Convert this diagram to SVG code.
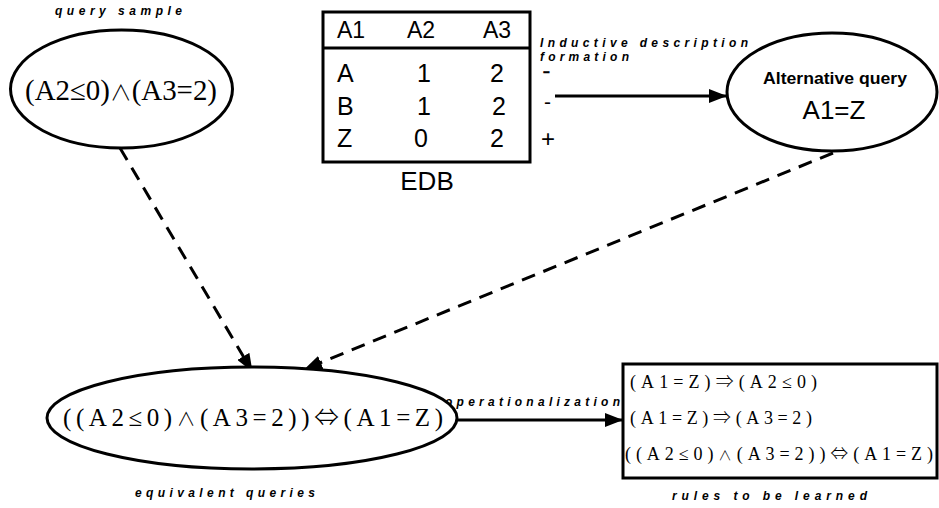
<svg xmlns="http://www.w3.org/2000/svg" width="939" height="508" viewBox="0 0 939 508">
<style>
.node{fill:#fff;stroke:#000;stroke-width:3}
.lbl{font-family:"Liberation Sans",Arial,sans-serif;font-weight:bold;font-style:italic;font-size:12px;fill:#000}
.sans{font-family:"Liberation Sans",Arial,sans-serif;fill:#000}
.serif{font-family:"Liberation Serif","Times New Roman",serif;fill:#000}
.sym{font-family:"Noto Sans CJK JP","DejaVu Serif",serif;font-weight:300}
.and{font-family:"Noto Sans CJK JP","DejaVu Serif",serif;font-weight:300;font-size:75%}
.conn{stroke:#000;stroke-width:3;fill:none}
.dash{stroke-dasharray:14 9}
</style>
<defs>
<marker id="ah" markerUnits="userSpaceOnUse" markerWidth="18" markerHeight="14" refX="17" refY="7" orient="auto"><path d="M0,0 L18,7 L0,14 z" fill="#000"/></marker>
</defs>
<rect width="939" height="508" fill="#fff"/>

<g id="connectors">
<line class="conn" x1="555" y1="96" x2="726" y2="96" marker-end="url(#ah)"/>
<line class="conn dash" x1="120" y1="148" x2="252" y2="371" marker-end="url(#ah)"/>
<line class="conn dash" x1="833" y1="153" x2="305" y2="369" marker-end="url(#ah)"/>
<line class="conn" x1="457" y1="420" x2="622" y2="420" marker-end="url(#ah)"/>
<text class="lbl" x="540" y="47" textLength="208" lengthAdjust="spacing">Inductive description</text>
<text class="lbl" x="540" y="61" textLength="89" lengthAdjust="spacing">formation</text>
<text class="lbl" x="445" y="406" textLength="175" lengthAdjust="spacing">operationalization</text>
</g>

<g id="query-sample">
<ellipse class="node" cx="121.5" cy="89" rx="111" ry="59"/>
<text class="serif" x="25" y="100" font-size="29" textLength="192" lengthAdjust="spacingAndGlyphs">(A2≤0)<tspan class="and">∧</tspan>(A3=2)</text>
<text class="lbl" x="55" y="15" textLength="127" lengthAdjust="spacing">query sample</text>
</g>

<g id="edb">
<rect class="node" x="323" y="12" width="207" height="150"/>
<line x1="323" y1="48" x2="530" y2="48" stroke="#000" stroke-width="3"/>
<g class="sans" font-size="23">
<text x="337" y="38">A1</text>
<text x="407" y="38">A2</text>
<text x="483" y="38">A3</text>
</g>
<g class="sans" font-size="25">
<text x="337" y="82">A</text>
<text x="424" y="82" text-anchor="middle">1</text>
<text x="497" y="82" text-anchor="middle">2</text>
<text x="337" y="115">B</text>
<text x="424" y="115" text-anchor="middle">1</text>
<text x="499" y="115" text-anchor="middle">2</text>
<text x="337" y="147">Z</text>
<text x="421" y="147" text-anchor="middle">0</text>
<text x="497" y="147" text-anchor="middle">2</text>
</g>
<text class="sans" x="427" y="190" font-size="26" text-anchor="middle">EDB</text>
<text class="sans" font-size="12" font-weight="bold" stroke="#000" stroke-width="0.6" transform="translate(543,75.5) scale(1.7,1)">-</text>
<text class="sans" x="544" y="109" font-size="21">-</text>
<text class="sans" x="541" y="147" font-size="24">+</text>
</g>

<g id="alternative-query">
<ellipse class="node" cx="832" cy="92" rx="105" ry="59"/>
<text class="sans" x="763" y="84" font-size="17" font-weight="bold" textLength="144" lengthAdjust="spacingAndGlyphs">Alternative query</text>
<text class="sans" x="834" y="119" font-size="26" text-anchor="middle">A1=Z</text>
</g>

<g id="equivalent-queries">
<ellipse class="node" cx="252" cy="418" rx="205" ry="51"/>
<text class="serif" x="63" y="426" font-size="25" textLength="380" lengthAdjust="spacing">((A2≤0)<tspan class="and">∧</tspan>(A3=2))<tspan class="sym">⇔</tspan>(A1=Z)</text>
<text class="lbl" x="135" y="497" textLength="180" lengthAdjust="spacing">equivalent queries</text>
</g>

<g id="rules">
<rect class="node" x="623" y="364" width="314" height="114"/>
<text class="serif" x="630" y="388" font-size="18" textLength="187" lengthAdjust="spacing">(A1=Z)<tspan class="sym">⇒</tspan>(A2≤0)</text>
<text class="serif" x="630" y="424" font-size="18" textLength="182" lengthAdjust="spacing">(A1=Z)<tspan class="sym">⇒</tspan>(A3=2)</text>
<text class="serif" x="625" y="460" font-size="18" textLength="308" lengthAdjust="spacing">((A2≤0)<tspan class="and">∧</tspan>(A3=2))<tspan class="sym">⇔</tspan>(A1=Z)</text>
<text class="lbl" x="672" y="500" textLength="195" lengthAdjust="spacing">rules to be learned</text>
</g>
</svg>
